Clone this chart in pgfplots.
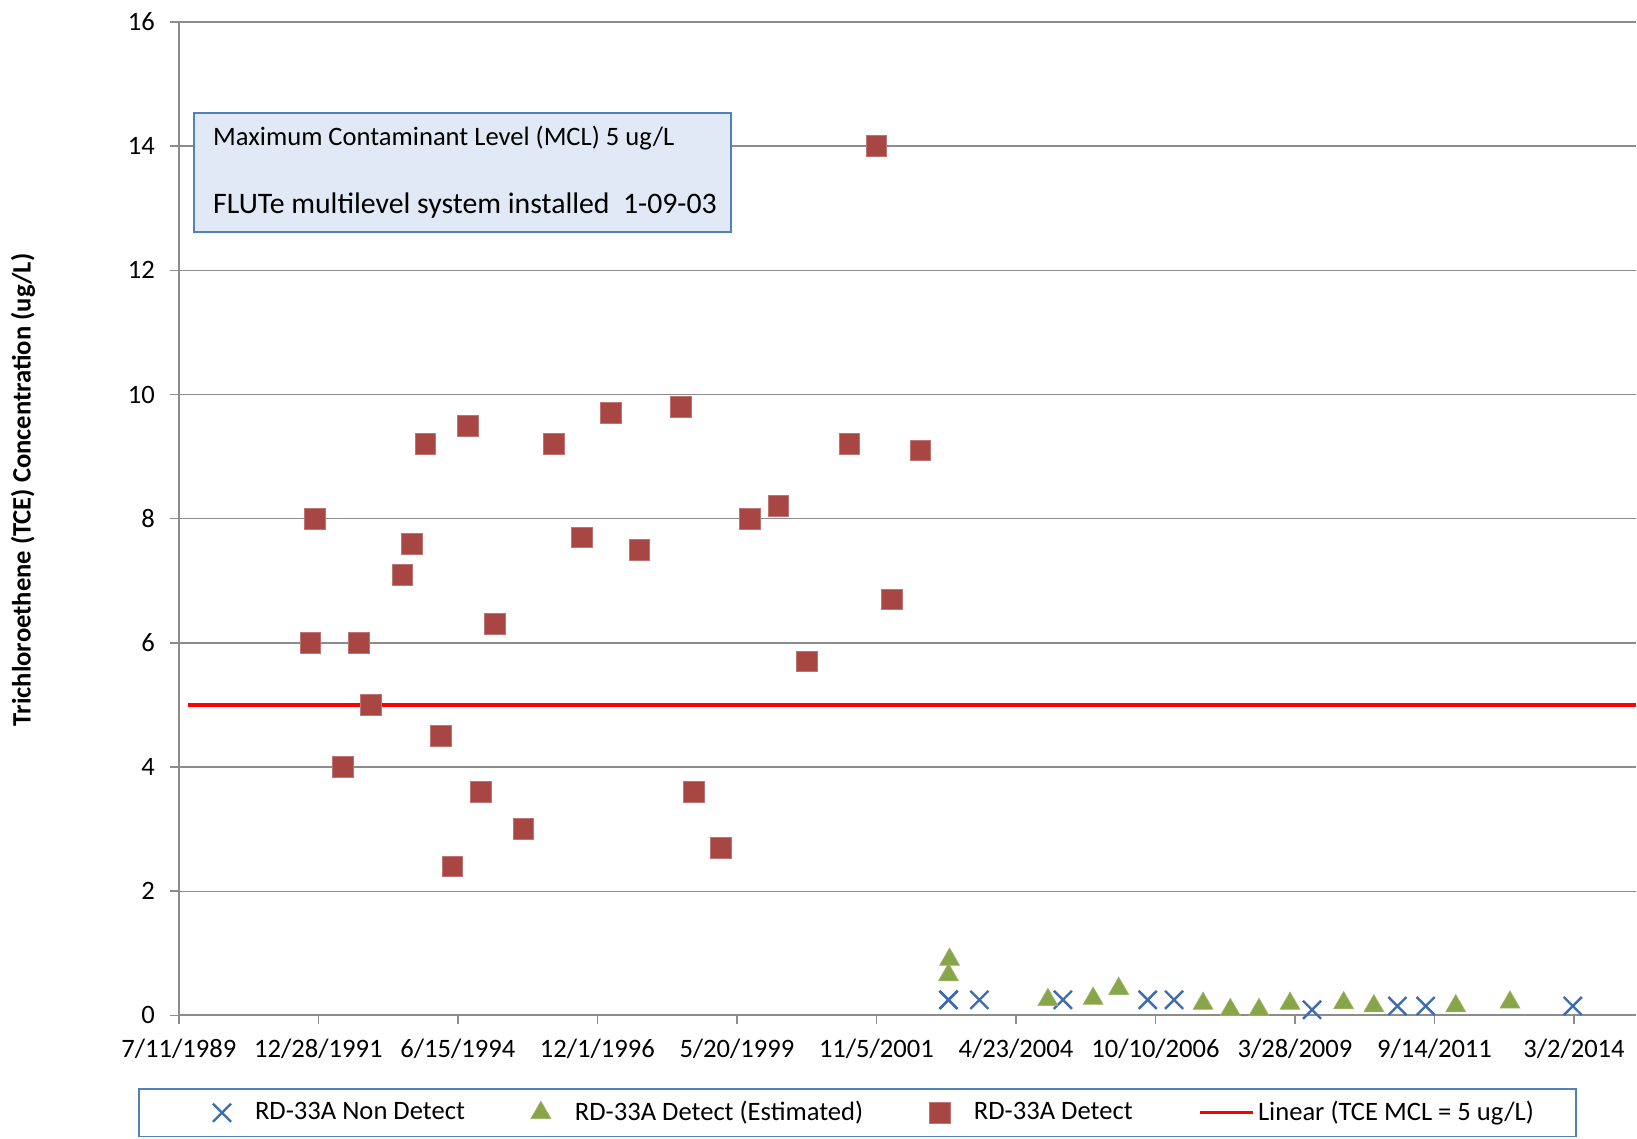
\documentclass[border=0pt]{standalone}
\usepackage{fontspec}
\setmainfont{Carlito}
\usepackage{pgfplots}
\pgfplotsset{compat=1.18}
\usetikzlibrary{calc}
\definecolor{cND}{HTML}{3D6DB0}
\definecolor{cEst}{HTML}{88A54A}
\definecolor{cDet}{HTML}{A84644}
\definecolor{cGrid}{HTML}{8C8C8C}
\definecolor{cBoxFill}{HTML}{E0E9F5}
\definecolor{cBoxLine}{HTML}{4F81BD}
\newcommand{\lbl}{\fontsize{13.3}{16}\selectfont}

\begin{document}
\begin{tikzpicture}
\begin{axis}[
  name=ax,
  scale only axis, width=729pt, height=497pt,
  xmin=32700, xmax=42100, ymin=0, ymax=16,
  axis x line=bottom, axis y line=left,
  axis line style={cGrid, line width=0.9pt, -},
  scaled x ticks=false,
  xtick={32700,33600,34500,35400,36300,37200,38100,39000,39900,40800,41700},
  xticklabels={7/11/1989,12/28/1991,6/15/1994,12/1/1996,5/20/1999,11/5/2001,4/23/2004,10/10/2006,3/28/2009,9/14/2011,3/2/2014},
  ytick={0,2,...,16},
  tick align=outside, major tick length=4.5pt,
  tick style={cGrid, line width=0.8pt},
  ymajorgrids, grid style={cGrid, line width=0.7pt},
  tick label style={font=\lbl},
  xticklabel style={yshift=-4pt},
  yticklabel style={xshift=-4pt},
  /pgf/number format/assume math mode=true,
  ylabel={Trichloroethene (TCE) Concentration (ug/L)},
  ylabel style={font=\lbl\bfseries, at={(axis description cs:-0.107,0.529)}, anchor=center},
  legend columns=4,
  legend style={at={(0.4657,0)}, yshift=-36.5pt, anchor=north,
    draw=cBoxLine, line width=0.8pt, inner xsep=37pt, inner ysep=4.2pt,
    font=\lbl,
    /tikz/every even column/.append style={column sep=31pt}},
  clip=false,
]
\addplot[only marks, mark=x, mark size=6.4pt, mark options={cND, line width=1.2pt}] coordinates {
  (37665,0.25) (37665,0.25) (37864,0.25) (38403,0.25) (38950,0.25) (39120,0.25)
  (40010,0.09) (40561,0.15) (40743,0.15) (41692,0.15)};
\addlegendentry{\hspace{10pt}RD-33A Non Detect}
\addplot[only marks, mark=triangle*, mark size=5.8pt, mark options={fill=cEst, draw=cEst!80!white, line width=0.3pt}] coordinates {
  (37665,0.65) (37672,0.9) (38306,0.25) (38598,0.27) (38763,0.43) (39307,0.19)
  (39483,0.09) (39668,0.09) (39868,0.19) (40214,0.2) (40409,0.15) (40937,0.15) (41287,0.21)};
\addlegendentry{\hspace{10pt}RD-33A Detect (Estimated)}
\addplot[only marks, mark=square*, mark size=5.2pt, mark options={fill=cDet, draw=cDet!75!white, line width=0.4pt}] coordinates {
  (33549,6.0) (33576,8.0) (33758,4.0) (33859,6.0) (33940,5.0) (34142,7.1) (34202,7.6)
  (34290,9.2) (34391,4.5) (34465,2.4) (34566,9.5) (34647,3.6) (34741,6.3) (34923,3.0)
  (35119,9.2) (35300,7.7) (35489,9.7) (35671,7.5) (35941,9.8) (36021,3.6) (36197,2.7)
  (36385,8.0) (36567,8.2) (36749,5.7) (37025,9.2) (37200,14.0) (37301,6.7) (37483,9.1)};
\addlegendentry{\hspace{10pt}RD-33A Detect}
\addplot[red, line width=2pt, no marks,
  legend image code/.code={\draw[red, line width=1.3pt] (0cm,0cm) -- (0.93cm,0cm);}] coordinates {
  (32758,5) (42100,5)};
\addlegendentry{Linear (TCE MCL = 5 ug/L)\kern-18pt}

% annotation box
\draw[cBoxLine, line width=1pt, fill=cBoxFill] (axis cs:32797,14.54) rectangle (axis cs:36263,12.62);
\node[anchor=west, inner sep=0pt, font=\lbl] at (axis cs:32919,14.13) {Maximum Contaminant Level (MCL) 5 ug/L};
\node[anchor=west, inner sep=0pt, font=\fontsize{14.9}{18}\selectfont] at (axis cs:32919,13.04) {FLUTe multilevel system installed\ \ 1-09-03};
\end{axis}
\pgfresetboundingbox
\path[use as bounding box] ($(ax.south west)+(-89.5pt,-61.5pt)$) rectangle ($(ax.north east)+(0.5pt,11pt)$);
\end{tikzpicture}
\end{document}
